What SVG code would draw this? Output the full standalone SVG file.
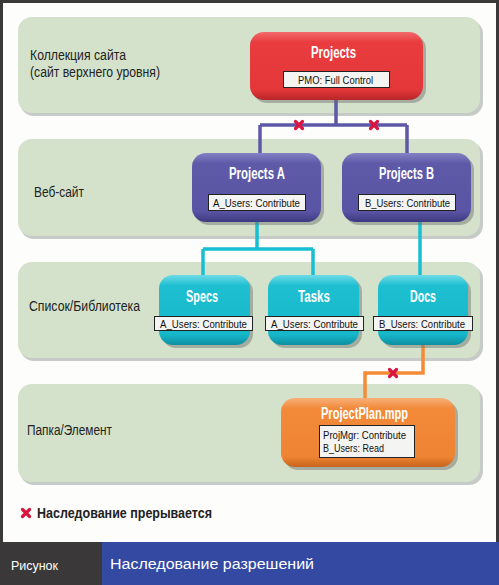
<svg xmlns="http://www.w3.org/2000/svg" width="499" height="585" viewBox="0 0 499 585">
<style>
.band{fill:#d4e2cc;}
.bandsh{fill:#9aa39a;opacity:0.55;}
.blabel{font-family:"Liberation Sans",sans-serif;font-size:14px;fill:#222;}
.title{font-family:"Liberation Sans",sans-serif;font-size:16px;font-weight:bold;fill:#fff;text-anchor:middle;}
.lbox{fill:#f4f4f2;stroke:#222;stroke-width:1;}
.ltext{font-family:"Liberation Sans",sans-serif;font-size:11.5px;fill:#111;text-anchor:middle;}
.ltextl{font-family:"Liberation Sans",sans-serif;font-size:11.5px;fill:#111;}
.shadow{fill:#6d6d6d;opacity:0.45;}
.x{stroke:#d8143f;stroke-width:3.2;stroke-linecap:round;}
</style>
<defs>
<linearGradient id="gRed" x1="0" y1="0" x2="0" y2="1"><stop offset="0" stop-color="#f26a6a"/><stop offset="0.15" stop-color="#e83c3f"/><stop offset="0.85" stop-color="#e3373a"/><stop offset="1" stop-color="#b82528"/></linearGradient>
<linearGradient id="gPur" x1="0" y1="0" x2="0" y2="1"><stop offset="0" stop-color="#8581c4"/><stop offset="0.15" stop-color="#5e5aa8"/><stop offset="0.85" stop-color="#5954a3"/><stop offset="1" stop-color="#3e3a80"/></linearGradient>
<linearGradient id="gCyan" x1="0" y1="0" x2="0" y2="1"><stop offset="0" stop-color="#6fdbe6"/><stop offset="0.15" stop-color="#1fbfd2"/><stop offset="0.85" stop-color="#17b7ca"/><stop offset="1" stop-color="#0d8fa0"/></linearGradient>
<linearGradient id="gOr" x1="0" y1="0" x2="0" y2="1"><stop offset="0" stop-color="#f8b07a"/><stop offset="0.15" stop-color="#f28a3a"/><stop offset="0.85" stop-color="#ef8433"/><stop offset="1" stop-color="#c8641c"/></linearGradient>
</defs>

<!-- frame -->
<rect x="0" y="0" width="499" height="585" fill="#3a3839"/>
<rect x="3" y="3" width="493" height="539" fill="#fdfdfc"/>

<!-- bands -->
<g id="band1">
<rect class="bandsh" x="20" y="20" width="463" height="96" rx="14"/>
<rect class="band" x="18" y="17" width="462" height="96" rx="14"/>
<text class="blabel" x="30" y="60" textLength="96" lengthAdjust="spacingAndGlyphs">Коллекция сайта</text>
<text class="blabel" x="30" y="77" textLength="130" lengthAdjust="spacingAndGlyphs">(сайт верхнего уровня)</text>
</g>
<g id="band2">
<rect class="bandsh" x="20" y="142" width="463" height="97" rx="14"/>
<rect class="band" x="18" y="139" width="462" height="97" rx="14"/>
<text class="blabel" x="34" y="197" textLength="50" lengthAdjust="spacingAndGlyphs">Веб-сайт</text>
</g>
<g id="band3">
<rect class="bandsh" x="20" y="265" width="463" height="96" rx="14"/>
<rect class="band" x="18" y="262" width="462" height="96" rx="14"/>
<text class="blabel" x="29" y="311" textLength="111" lengthAdjust="spacingAndGlyphs">Список/Библиотека</text>
</g>
<g id="band4">
<rect class="bandsh" x="20" y="387" width="463" height="98" rx="14"/>
<rect class="band" x="18" y="384" width="462" height="98" rx="14"/>
<text class="blabel" x="27" y="435" textLength="85" lengthAdjust="spacingAndGlyphs">Папка/Элемент</text>
</g>

<!-- connectors -->
<g id="connectors" fill="none" stroke-linejoin="miter">
<path d="M336 100 V125 M260 125 H407 M260 125 V153 M407 125 V153" stroke="#5d58a8" stroke-width="3.5"/>
<path d="M257 222 V249 M203 249 H313 M203 249 V275 M313 249 V275 M420 222 V278" stroke="#17bfd3" stroke-width="3.5"/>
<path d="M423 345 V373 H365 V398" stroke="#f68b36" stroke-width="3.5"/>
<g class="x"><path d="M295.5 121.5 L302.5 128.5 M302.5 121.5 L295.5 128.5"/></g>
<g class="x"><path d="M370.5 121.5 L377.5 128.5 M377.5 121.5 L370.5 128.5"/></g>
<g class="x"><path d="M389.5 369.5 L396.5 376.5 M396.5 369.5 L389.5 376.5"/></g>
</g>

<!-- nodes -->
<g id="node-projects">
<rect class="shadow" x="253" y="35" width="173" height="68" rx="14"/>
<rect x="250" y="32" width="173" height="68" rx="14" fill="url(#gRed)"/>
<text class="title" x="333.5" y="58" textLength="45" lengthAdjust="spacingAndGlyphs">Projects</text>
<rect class="lbox" x="283.5" y="71.5" width="106" height="16"/>
<text class="ltext" x="335.5" y="83.5" textLength="75" lengthAdjust="spacingAndGlyphs">PMO: Full Control</text>
</g>
<g id="node-projects-a">
<rect class="shadow" x="195" y="156" width="129" height="69" rx="14"/>
<rect x="192" y="153" width="129" height="69" rx="14" fill="url(#gPur)"/>
<text class="title" x="257" y="179" textLength="56" lengthAdjust="spacingAndGlyphs">Projects A</text>
<rect class="lbox" x="208.5" y="194.5" width="97" height="16"/>
<text class="ltext" x="256.5" y="206.5" textLength="87" lengthAdjust="spacingAndGlyphs">A_Users: Contribute</text>
</g>
<g id="node-projects-b">
<rect class="shadow" x="345" y="156" width="129" height="69" rx="14"/>
<rect x="342" y="153" width="129" height="69" rx="14" fill="url(#gPur)"/>
<text class="title" x="406.5" y="179" textLength="55" lengthAdjust="spacingAndGlyphs">Projects B</text>
<rect class="lbox" x="358.5" y="194.5" width="97" height="16"/>
<text class="ltext" x="407.5" y="206.5" textLength="85" lengthAdjust="spacingAndGlyphs">B_Users: Contribute</text>
</g>
<g id="node-specs">
<rect class="shadow" x="162" y="278" width="91" height="70" rx="14"/>
<rect x="159" y="275" width="91" height="70" rx="14" fill="url(#gCyan)"/>
<text class="title" x="202" y="302" textLength="32" lengthAdjust="spacingAndGlyphs">Specs</text>
<rect class="lbox" x="154.5" y="316.5" width="98" height="14"/>
<text class="ltext" x="203.5" y="327.5" textLength="87" lengthAdjust="spacingAndGlyphs">A_Users: Contribute</text>
</g>
<g id="node-tasks">
<rect class="shadow" x="271" y="278" width="91" height="70" rx="14"/>
<rect x="268" y="275" width="91" height="70" rx="14" fill="url(#gCyan)"/>
<text class="title" x="314" y="302" textLength="32" lengthAdjust="spacingAndGlyphs">Tasks</text>
<rect class="lbox" x="265.5" y="316.5" width="98" height="14"/>
<text class="ltext" x="314.5" y="327.5" textLength="87" lengthAdjust="spacingAndGlyphs">A_Users: Contribute</text>
</g>
<g id="node-docs">
<rect class="shadow" x="381" y="278" width="90" height="70" rx="14"/>
<rect x="378" y="275" width="90" height="70" rx="14" fill="url(#gCyan)"/>
<text class="title" x="423" y="302" textLength="26" lengthAdjust="spacingAndGlyphs">Docs</text>
<rect class="lbox" x="373.5" y="316.5" width="99" height="14"/>
<text class="ltext" x="422" y="327.5" textLength="86" lengthAdjust="spacingAndGlyphs">B_Users: Contribute</text>
</g>
<g id="node-projectplan">
<rect class="shadow" x="284" y="401" width="174" height="69" rx="14"/>
<rect x="281" y="398" width="174" height="69" rx="14" fill="url(#gOr)"/>
<text class="title" x="364.5" y="419" textLength="87" lengthAdjust="spacingAndGlyphs">ProjectPlan.mpp</text>
<rect class="lbox" x="319.5" y="425.5" width="95" height="32"/>
<text class="ltextl" x="323" y="439" textLength="83" lengthAdjust="spacingAndGlyphs">ProjMgr: Contribute</text>
<text class="ltextl" x="323" y="452" textLength="61" lengthAdjust="spacingAndGlyphs">B_Users: Read</text>
</g>

<!-- legend -->
<g id="legend">
<g class="x"><path d="M22.5 509.5 L29.5 516.5 M29.5 509.5 L22.5 516.5"/></g>
<text x="37" y="518" font-family="'Liberation Sans',sans-serif" font-size="15" font-weight="bold" fill="#222" textLength="175" lengthAdjust="spacingAndGlyphs">Наследование прерывается</text>
</g>

<!-- caption -->
<g id="caption">
<rect x="0" y="542" width="102" height="43" fill="#3a3839"/>
<rect x="102" y="542" width="397" height="43" fill="#3349a2"/>
<text x="11" y="570" font-family="'Liberation Sans',sans-serif" font-size="12" fill="#fff" textLength="47" lengthAdjust="spacingAndGlyphs">Рисунок</text>
<text x="110" y="569" font-family="'Liberation Sans',sans-serif" font-size="14" fill="#fff" textLength="204" lengthAdjust="spacingAndGlyphs">Наследование разрешений</text>
</g>
</svg>
